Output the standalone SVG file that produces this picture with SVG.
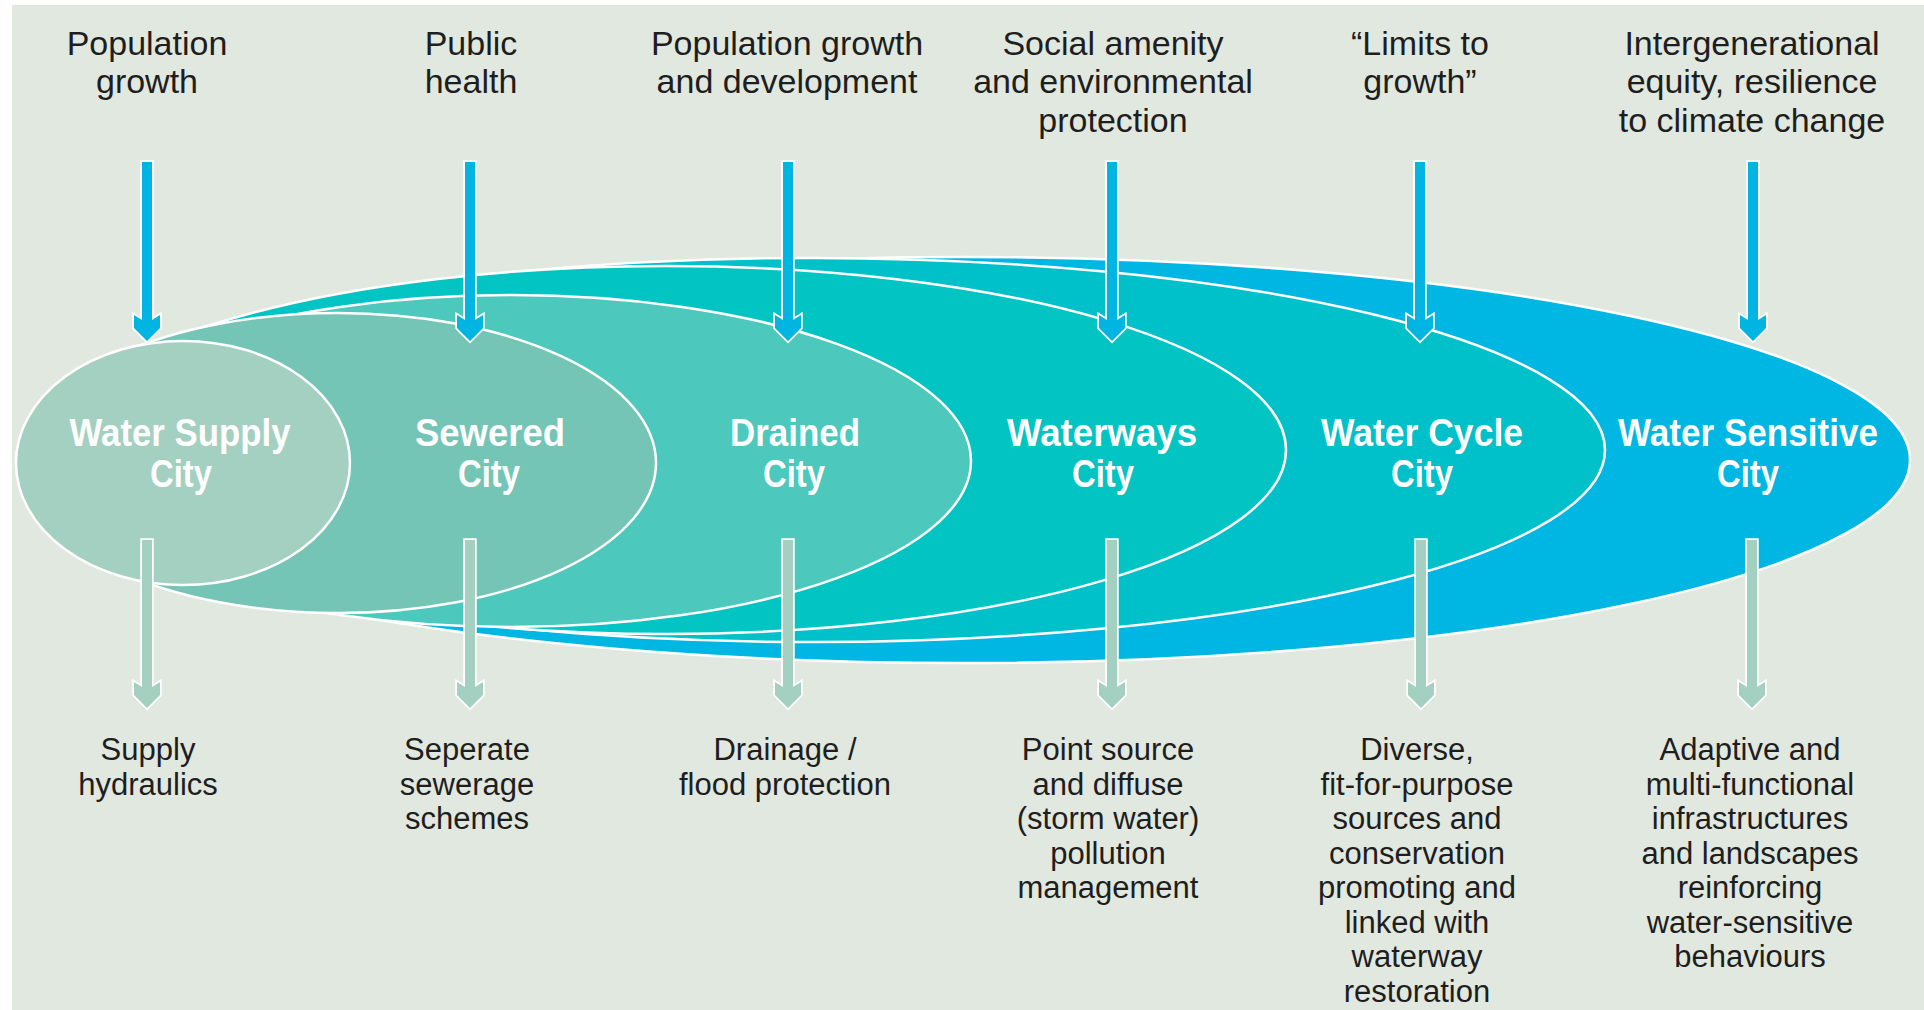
<svg xmlns="http://www.w3.org/2000/svg" width="1924" height="1010" viewBox="0 0 1924 1010">
<style>
  .bg{fill:#E1E8E0}
  .ell{stroke:#FFFFFF;stroke-width:2.5}
  .city{font-family:"Liberation Sans",Arial,sans-serif;font-weight:bold;font-size:38px;fill:#FFFFFF;text-anchor:middle}
  .drv{font-family:"Liberation Sans",Arial,sans-serif;font-size:34px;fill:#1E1E1E;text-anchor:middle}
  .res{font-family:"Liberation Sans",Arial,sans-serif;font-size:31px;fill:#1E1E1E;text-anchor:middle}
  .in{fill:#00B5E2;stroke:#FFFFFF;stroke-width:3.5;paint-order:stroke;stroke-linejoin:miter}
  .out{fill:#A3D0C1;stroke:#FFFFFF;stroke-width:3.5;paint-order:stroke;stroke-linejoin:miter}
</style>
<defs>
  <path id="arrIn" d="M-5,162 H5 V320 L13,315 V328 L0,341 L-13,328 V315 L-5,320 Z"/>
  <path id="arrOut" d="M-5,540 H5 V687 L13,682 V695 L0,708 L-13,695 V682 L-5,687 Z"/>
</defs>
<rect x="0" y="0" width="1924" height="1010" fill="#FFFFFF"/>
<rect class="bg" x="12" y="5" width="1912" height="1005"/>

<g id="water-sensitive-city">
  <ellipse class="ell" cx="963" cy="460" rx="947" ry="203" fill="#00B6E2"/>
  <text class="city" x="1748" y="446" textLength="260" lengthAdjust="spacingAndGlyphs">Water Sensitive</text>
  <text class="city" x="1748" y="487" textLength="62" lengthAdjust="spacingAndGlyphs">City</text>
</g>
<g id="water-cycle-city">
  <ellipse class="ell" cx="812" cy="450" rx="793" ry="192" fill="#00C0CA"/>
  <text class="city" x="1422" y="446" textLength="202" lengthAdjust="spacingAndGlyphs">Water Cycle</text>
  <text class="city" x="1422" y="487" textLength="62" lengthAdjust="spacingAndGlyphs">City</text>
</g>
<g id="waterways-city">
  <ellipse class="ell" cx="666" cy="450" rx="620" ry="184" fill="#02C4C3"/>
  <text class="city" x="1102" y="446" textLength="190" lengthAdjust="spacingAndGlyphs">Waterways</text>
  <text class="city" x="1103" y="487" textLength="62" lengthAdjust="spacingAndGlyphs">City</text>
</g>
<g id="drained-city">
  <ellipse class="ell" cx="511" cy="461" rx="460" ry="166" fill="#4DC8BC"/>
  <text class="city" x="795" y="446" textLength="130" lengthAdjust="spacingAndGlyphs">Drained</text>
  <text class="city" x="794" y="487" textLength="62" lengthAdjust="spacingAndGlyphs">City</text>
</g>
<g id="sewered-city">
  <ellipse class="ell" cx="338" cy="463" rx="318" ry="150" fill="#74C5B5"/>
  <text class="city" x="490" y="446" textLength="150" lengthAdjust="spacingAndGlyphs">Sewered</text>
  <text class="city" x="489" y="487" textLength="62" lengthAdjust="spacingAndGlyphs">City</text>
</g>
<g id="water-supply-city">
  <ellipse class="ell" cx="183" cy="463" rx="167" ry="122" fill="#A3D0C1"/>
  <text class="city" x="180" y="446" textLength="221" lengthAdjust="spacingAndGlyphs">Water Supply</text>
  <text class="city" x="181" y="487" textLength="62" lengthAdjust="spacingAndGlyphs">City</text>
</g>

<g id="connectors">
  <use href="#arrIn" class="in" x="147"/>
  <use href="#arrIn" class="in" x="470"/>
  <use href="#arrIn" class="in" x="788"/>
  <use href="#arrIn" class="in" x="1112"/>
  <use href="#arrIn" class="in" x="1420"/>
  <use href="#arrIn" class="in" x="1753"/>
  <use href="#arrOut" class="out" x="147"/>
  <use href="#arrOut" class="out" x="470"/>
  <use href="#arrOut" class="out" x="788"/>
  <use href="#arrOut" class="out" x="1112"/>
  <use href="#arrOut" class="out" x="1421"/>
  <use href="#arrOut" class="out" x="1752"/>
</g>

<g id="drivers">
  <text class="drv" x="147" y="55"><tspan x="147">Population</tspan><tspan x="147" dy="38">growth</tspan></text>
  <text class="drv" x="471" y="55"><tspan x="471">Public</tspan><tspan x="471" dy="38">health</tspan></text>
  <text class="drv" x="787" y="55"><tspan x="787">Population growth</tspan><tspan x="787" dy="38">and development</tspan></text>
  <text class="drv" x="1113" y="55"><tspan x="1113">Social amenity</tspan><tspan x="1113" dy="38">and environmental</tspan><tspan x="1113" dy="39">protection</tspan></text>
  <text class="drv" x="1420" y="55"><tspan x="1420">“Limits to</tspan><tspan x="1420" dy="38">growth”</tspan></text>
  <text class="drv" x="1752" y="55"><tspan x="1752">Intergenerational</tspan><tspan x="1752" dy="38">equity, resilience</tspan><tspan x="1752" dy="39">to climate change</tspan></text>
</g>

<g id="outcomes">
  <text class="res" x="148" y="760"><tspan x="148">Supply</tspan><tspan x="148" dy="34.5">hydraulics</tspan></text>
  <text class="res" x="467" y="760"><tspan x="467">Seperate</tspan><tspan x="467" dy="34.5">sewerage</tspan><tspan x="467" dy="34.5">schemes</tspan></text>
  <text class="res" x="785" y="760"><tspan x="785">Drainage /</tspan><tspan x="785" dy="34.5">flood protection</tspan></text>
  <text class="res" x="1108" y="760"><tspan x="1108">Point source</tspan><tspan x="1108" dy="34.5">and diffuse</tspan><tspan x="1108" dy="34.5">(storm water)</tspan><tspan x="1108" dy="34.5">pollution</tspan><tspan x="1108" dy="34.5">management</tspan></text>
  <text class="res" x="1417" y="760"><tspan x="1417">Diverse,</tspan><tspan x="1417" dy="34.5">fit-for-purpose</tspan><tspan x="1417" dy="34.5">sources and</tspan><tspan x="1417" dy="34.5">conservation</tspan><tspan x="1417" dy="34.5">promoting and</tspan><tspan x="1417" dy="34.5">linked with</tspan><tspan x="1417" dy="34.5">waterway</tspan><tspan x="1417" dy="34.5">restoration</tspan></text>
  <text class="res" x="1750" y="760"><tspan x="1750">Adaptive and</tspan><tspan x="1750" dy="34.5">multi-functional</tspan><tspan x="1750" dy="34.5">infrastructures</tspan><tspan x="1750" dy="34.5">and landscapes</tspan><tspan x="1750" dy="34.5">reinforcing</tspan><tspan x="1750" dy="34.5">water-sensitive</tspan><tspan x="1750" dy="34.5">behaviours</tspan></text>
</g>
</svg>
